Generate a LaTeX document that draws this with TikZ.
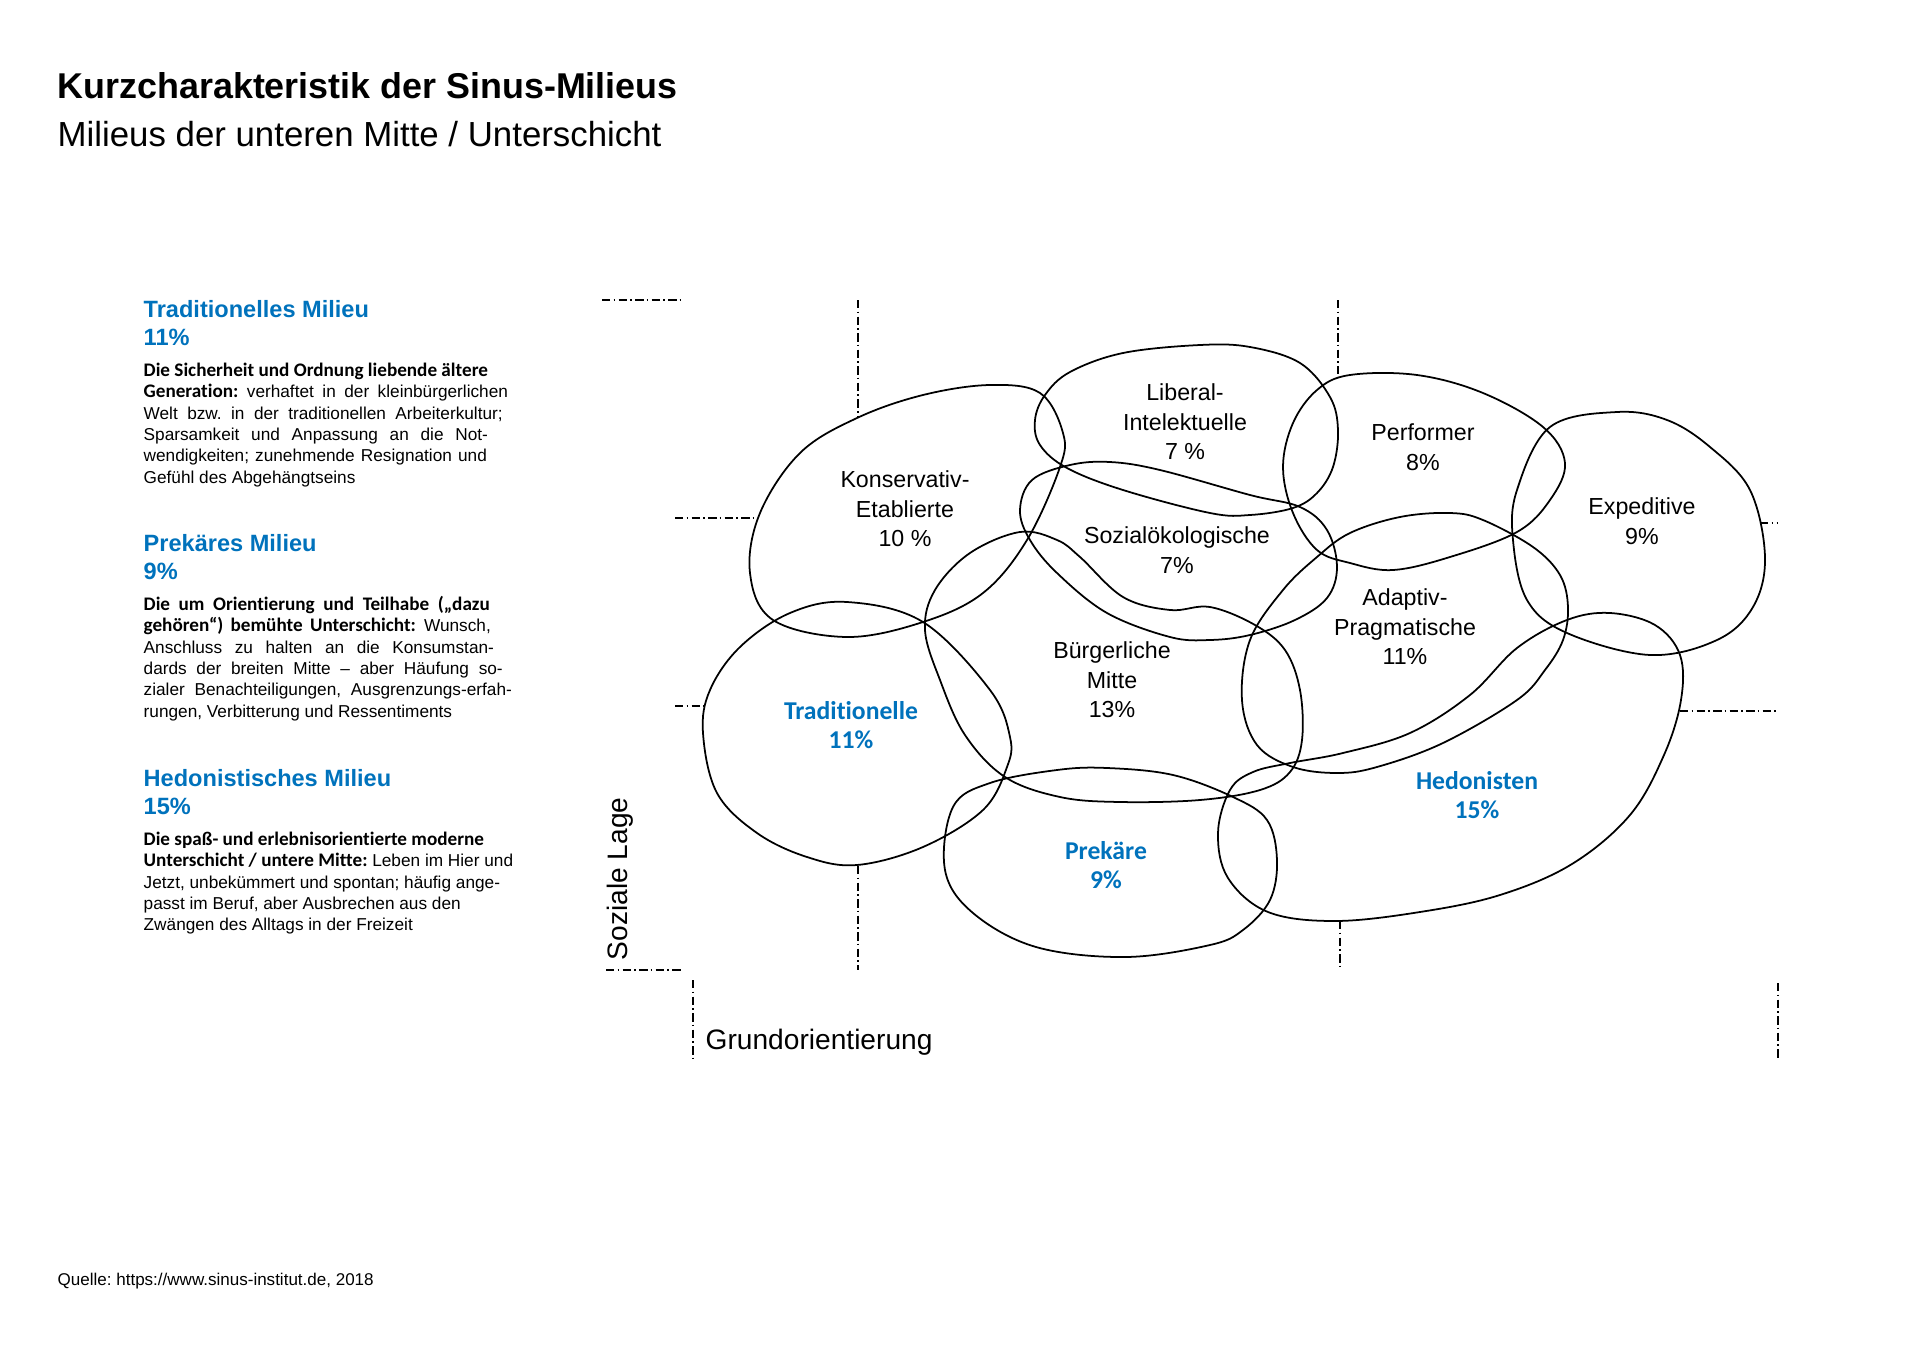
\documentclass[tikz,border=0pt]{standalone}
\usepackage{fontspec}
\setmainfont{Liberation Sans}
\newfontfamily\myriad[Ligatures=NoCommon,Contextuals=NoAlternate,RawFeature={-liga;-clig;-calt}]{Carlito}
\definecolor{sinusblue}{RGB}{0,114,188}
\newcommand\lead[1]{{\myriad\bfseries\fontsize{5.45pt}{6pt}\selectfont #1}}
\newcommand\jline[2]{\makebox[#1][s]{#2}}
\frenchspacing

\begin{document}
\begin{tikzpicture}[x=0.01cm,y=-0.01cm,line cap=round,line join=round,
    blob/.style={line width=0.5pt,black},
    axisline/.style={line width=0.55pt,line cap=butt,dash pattern=on 2.4pt off 0.9pt on 0.5pt off 0.9pt},
    milieu/.style={align=center,inner sep=0pt,font=\fontsize{6.6pt}{8.4pt}\selectfont},
    lowmilieu/.style={align=center,inner sep=0pt,text=sinusblue,font=\myriad\bfseries\fontsize{7.3pt}{8.4pt}\selectfont},
    head/.style={anchor=base west,inner sep=0pt,text=sinusblue,font=\bfseries\fontsize{6.7pt}{8pt}\selectfont},
    body/.style={anchor=base west,inner sep=0pt,font=\fontsize{4.9pt}{6pt}\selectfont}]
    \useasboundingbox (0,0) rectangle (1920,1357);

    % titles
    \node[anchor=base west,inner sep=0pt,font=\bfseries\fontsize{10.2pt}{12pt}\selectfont] (title) at (57,98) {Kurzcharakteristik der Sinus-Milieus};
    \node[anchor=base west,inner sep=0pt,font=\fontsize{9.9pt}{12pt}\selectfont] (subtitle) at (57,146) {Milieus der unteren Mitte / Unterschicht};

    % left column
    \node[head] (h1) at (143,317) {Traditionelles Milieu};
    \node[head] (p1) at (143,345) {11\%};
    \node[body] (b11) at (143,376) {\lead{Die Sicherheit und Ordnung liebende ältere}};
    \node[body] (b12) at (143,397) {\jline{103.6pt}{\lead{Generation:} verhaftet in der kleinbürgerlichen}};
    \node[body] (b13) at (143,419) {\jline{102.1pt}{Welt bzw. in der traditionellen Arbeiterkultur;}};
    \node[body] (b14) at (143,440) {\jline{97.9pt}{Sparsamkeit und Anpassung an die Not-}};
    \node[body] (b15) at (143,461) {\jline{97.6pt}{wendigkeiten; zunehmende Resignation und}};
    \node[body] (b16) at (143,483) {Gefühl des Abgehängtseins};

    \node[head] (h2) at (143,551) {Prekäres Milieu};
    \node[head] (p2) at (143,579) {9\%};
    \node[body] (b21) at (143,610) {\jline{98.4pt}{\lead{Die um Orientierung und Teilhabe („dazu}}};
    \node[body] (b22) at (143,631) {\jline{98.7pt}{\lead{gehören“) bemühte Unterschicht:} Wunsch,}};
    \node[body] (b23) at (143,653) {\jline{99.6pt}{Anschluss zu halten an die Konsumstan-}};
    \node[body] (b24) at (143,674) {\jline{102.1pt}{dards der breiten Mitte -- aber Häufung so-}};
    \node[body] (b25) at (143,695) {\jline{104.7pt}{zialer Benachteiligungen, Ausgrenzungs-erfah-}};
    \node[body] (b26) at (143,717) {rungen, Verbitterung und Ressentiments};

    \node[head] (h3) at (143,786) {Hedonistisches Milieu};
    \node[head] (p3) at (143,814) {15\%};
    \node[body] (b31) at (143,845) {\lead{Die spaß- und erlebnisorientierte moderne}};
    \node[body] (b32) at (143,866) {\lead{Unterschicht / untere Mitte:} Leben im Hier und};
    \node[body] (b33) at (143,888) {Jetzt, unbekümmert und spontan; häufig ange-};
    \node[body] (b34) at (143,909) {passt im Beruf, aber Ausbrechen aus den};
    \node[body] (b35) at (143,930) {Zwängen des Alltags in der Freizeit};

    % axes
    \draw[axisline] (602,300) -- (681,300);
    \draw[axisline] (858,300) -- (858,417);
    \draw[axisline] (675,518) -- (756,518);
    \draw[axisline] (1338,300) -- (1338,374);
    \draw[axisline] (1760,523) -- (1778,523);
    \draw[axisline] (675,706) -- (704,706);
    \draw[axisline] (1680,711) -- (1778,711);
    \draw[axisline] (858,866) -- (858,970);
    \draw[axisline] (1340,921) -- (1340,970);
    \draw[axisline] (606,970) -- (683,970);
    \draw[axisline] (693,980) -- (693,1059);
    \draw[axisline] (1778,983) -- (1778,1059);
    \node[anchor=west,inner sep=0pt,rotate=90,font=\fontsize{8pt}{10pt}\selectfont] (lage) at (620,961) {Soziale Lage};
    \node[anchor=west,inner sep=0pt,font=\fontsize{8pt}{10pt}\selectfont] (grund) at (705,1042) {Grundorientierung};

    % milieus
    \draw[blob] plot[smooth cycle,tension=0.6] coordinates {(990,385) (1040,393) (1063,433) (1060,467) (1027,540) (983,593) (923,622) (847,637) (773,620) (750,573) (760,513) (800,453) (857,418) (923,395)};
    \draw[blob] plot[smooth cycle,tension=0.6] coordinates {(1123,353) (1200,345) (1250,347) (1300,363) (1330,397) (1338,430) (1333,467) (1317,493) (1293,508) (1250,515) (1210,513) (1123,490) (1067,468) (1040,445) (1035,420) (1045,395) (1070,372)};
    \draw[blob] plot[smooth cycle,tension=0.6] coordinates {(1020,510) (1032,480) (1070,465) (1110,462) (1160,470) (1250,495) (1300,507) (1327,530) (1337,567) (1327,598) (1295,620) (1250,635) (1210,640) (1170,637) (1107,613) (1057,573) (1030,540)};
    \draw[blob] plot[smooth cycle,tension=0.6] coordinates {(1020,532) (1057,540) (1080,557) (1123,597) (1170,610) (1210,607) (1255,625) (1285,650) (1300,690) (1302,740) (1290,772) (1260,790) (1200,800) (1120,802) (1060,797) (1005,777) (965,735) (940,680) (925,630) (935,590) (970,553)};
    \draw[blob] plot[smooth cycle,tension=0.6] coordinates {(847,602) (923,622) (990,690) (1010,737) (1007,767) (983,810) (923,847) (857,865) (807,857) (757,833) (717,793) (703,733) (710,690) (740,647) (790,613)};
    \draw[blob] plot[smooth cycle,tension=0.6] coordinates {(1057,770) (1107,768) (1173,775) (1233,797) (1267,820) (1277,860) (1270,900) (1243,930) (1210,945) (1126,957) (1036,947) (973,913) (945,870) (953,807) (990,783)};
    \draw[blob] plot[smooth cycle,tension=0.6] coordinates {(1350,375) (1417,375) (1483,393) (1543,427) (1565,463) (1550,500) (1517,532) (1450,557) (1393,570) (1350,563) (1317,550) (1293,513) (1283,467) (1293,423) (1317,390)};
    \draw[blob] plot[smooth cycle,tension=0.6] coordinates {(1617,412) (1667,420) (1710,447) (1750,490) (1765,557) (1753,607) (1717,640) (1650,655) (1567,633) (1527,600) (1513,540) (1517,490) (1550,427)};
    \draw[blob] plot[smooth cycle,tension=0.6] coordinates {(1450,513) (1483,520) (1533,547) (1560,575) (1568,607) (1563,640) (1545,670) (1517,700) (1443,743) (1377,767) (1337,773) (1293,767) (1257,745) (1242,700) (1250,640) (1283,590) (1317,557) (1350,533) (1400,517)};
    \draw[blob] plot[smooth cycle,tension=0.6] coordinates {(1610,613) (1655,625) (1680,655) (1681,700) (1664,755) (1630,815) (1572,864) (1500,895) (1420,912) (1335,921) (1268,912) (1228,878) (1218,833) (1230,790) (1253,772) (1290,763) (1343,753) (1410,733) (1470,695) (1517,648) (1567,620)};

    \node[milieu] (konserv) at (905,509) {Konservativ-\\Etablierte\\10 \%};
    \node[milieu] (liberal) at (1185,422) {Liberal-\\Intelektuelle\\7 \%};
    \node[milieu] (perform) at (1423,447) {Performer\\8\%};
    \node[milieu] (sozial) at (1177,550) {Sozialökologische\\7\%};
    \node[milieu] (expedit) at (1642,521) {Expeditive\\9\%};
    \node[milieu] (adaptiv) at (1405,627) {Adaptiv-\\Pragmatische\\11\%};
    \node[milieu] (buerger) at (1112,680) {Bürgerliche\\Mitte\\13\%};
    \node[lowmilieu] (tradit) at (851,725) {Traditionelle\\11\%};
    \node[lowmilieu] (prekaer) at (1106,865) {Prekäre\\9\%};
    \node[lowmilieu] (hedon) at (1477,795) {Hedonisten\\15\%};

    \node[anchor=base west,inner sep=0pt,font=\fontsize{4.84pt}{6pt}\selectfont] (quelle) at (57,1285) {Quelle: https://www.sinus-institut.de, 2018};
\end{tikzpicture}
\end{document}
